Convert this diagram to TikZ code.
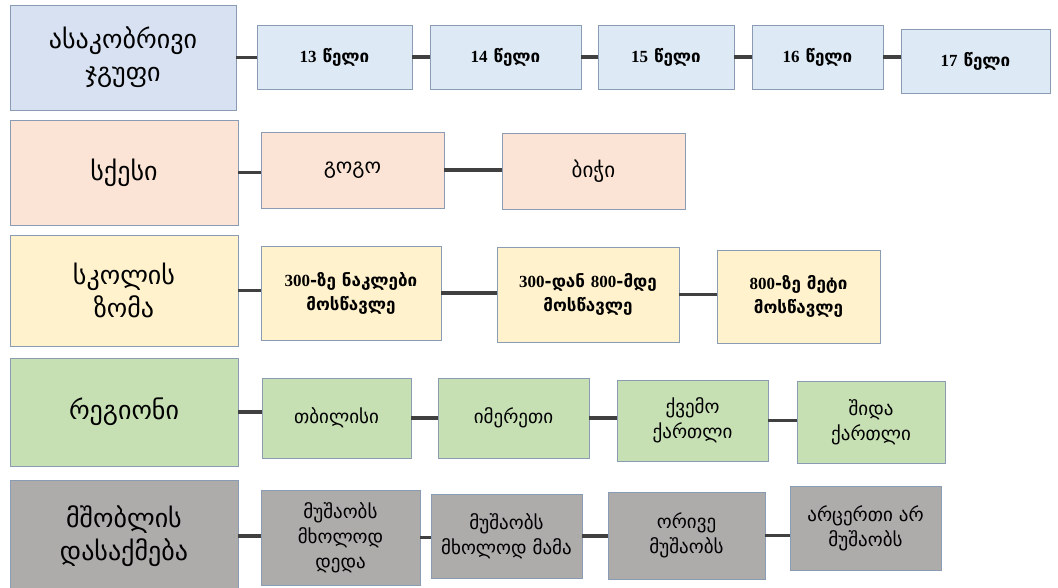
\documentclass[tikz,border=0pt]{standalone}
\usepackage{fontspec}
\setmainfont{DejaVu Sans}
\newfontfamily\numf{Liberation Serif}
\definecolor{bordc}{HTML}{8A9BB4}
\definecolor{linkc}{HTML}{404040}
\definecolor{blueM}{HTML}{D7E1F2}
\definecolor{blueS}{HTML}{DDEAF6}
\definecolor{peach}{HTML}{FBE4D5}
\definecolor{cream}{HTML}{FFF2CC}
\definecolor{greenF}{HTML}{C6E0B4}
\definecolor{grayF}{HTML}{AEABAB}
\newcommand\bx[6]{\node[#1,minimum width={#4-#2},minimum height={#5-#3}] (#6) at ({(#2+#4)/2},{(#3+#5)/2})}
\begin{document}
\begin{tikzpicture}[x=1pt,y=-1pt,
  box/.style={draw=bordc,line width=0.8pt,inner sep=1pt,align=center,text=black},
  mainbox/.style={box,font=\fontsize{26}{33}\selectfont},
  subbox/.style={box,font=\fontsize{19}{25}\selectfont},
  boldbox/.style={box,font=\fontsize{17}{24}\selectfont\bfseries},
  link/.style={draw=linkc,line width=3.5pt}]
\useasboundingbox (0,0) rectangle (1058,588);
\fill[white] (0,0) rectangle (1058,588);
% row 1
\bx{mainbox,fill=blueM}{10}{5}{236}{110}{m1}{ასაკობრივი\\ჯგუფი};
\bx{boldbox,fill=blueS}{257}{25}{412}{89}{a1}{{\numf 13} წელი};
\bx{boldbox,fill=blueS}{430}{25}{581}{89}{a2}{{\numf 14} წელი};
\bx{boldbox,fill=blueS}{598}{25}{734}{89}{a3}{{\numf 15} წელი};
\bx{boldbox,fill=blueS}{752}{25}{883}{89}{a4}{{\numf 16} წელი};
\bx{boldbox,fill=blueS}{901}{29}{1050}{93}{a5}{{\numf 17} წელი};
% row 2
\bx{mainbox,fill=peach}{10}{120}{238}{225}{m2}{სქესი};
\bx{subbox,fill=peach,font=\fontsize{21}{25}\selectfont}{261}{132}{444}{208}{b1}{გოგო};
\bx{subbox,fill=peach,font=\fontsize{21}{25}\selectfont}{502}{133}{685}{209}{b2}{ბიჭი};
% row 3
\bx{mainbox,fill=cream}{10}{235}{238}{346}{m3}{სკოლის\\ზომა};
\bx{boldbox,fill=cream}{261}{246}{441}{340}{c1}{{\numf 300}-ზე ნაკლები\\მოსწავლე};
\bx{boldbox,fill=cream}{497}{247}{679}{342}{c2}{{\numf 300}-დან {\numf 800}-მდე\\მოსწავლე};
\bx{boldbox,fill=cream}{717}{250}{880}{343}{c3}{{\numf 800}-ზე მეტი\\მოსწავლე};
% row 4
\bx{mainbox,fill=greenF}{10}{358}{238}{466}{m4}{რეგიონი};
\bx{subbox,fill=greenF}{262}{378}{411}{458}{d1}{თბილისი};
\bx{subbox,fill=greenF}{438}{378}{589}{458}{d2}{იმერეთი};
\bx{subbox,fill=greenF}{617}{380}{768}{461}{d3}{ქვემო\\ქართლი};
\bx{subbox,fill=greenF}{797}{381}{945}{463}{d4}{შიდა\\ქართლი};
% row 5
\bx{mainbox,fill=grayF}{10}{480}{238}{592}{m5}{მშობლის\\დასაქმება};
\bx{subbox,fill=grayF}{261}{490}{420}{585}{e1}{მუშაობს\\მხოლოდ\\დედა};
\bx{subbox,fill=grayF}{431}{494}{582}{578}{e2}{მუშაობს\\მხოლოდ მამა};
\bx{subbox,fill=grayF}{608}{492}{765}{579}{e3}{ორივე\\მუშაობს};
\bx{subbox,fill=grayF}{790}{486}{941}{570}{e4}{არცერთი არ\\მუშაობს};
% connectors
\foreach \a/\b in {m1/a1,a1/a2,a2/a3,a3/a4,a4/a5,m2/b1,b1/b2,m3/c1,c1/c2,c2/c3,m4/d1,d1/d2,d2/d3,d3/d4,m5/e1,e1/e2,e2/e3,e3/e4}
  \draw[link] (\a.east) -- (\a.east -| \b.west);
\end{tikzpicture}
\end{document}
